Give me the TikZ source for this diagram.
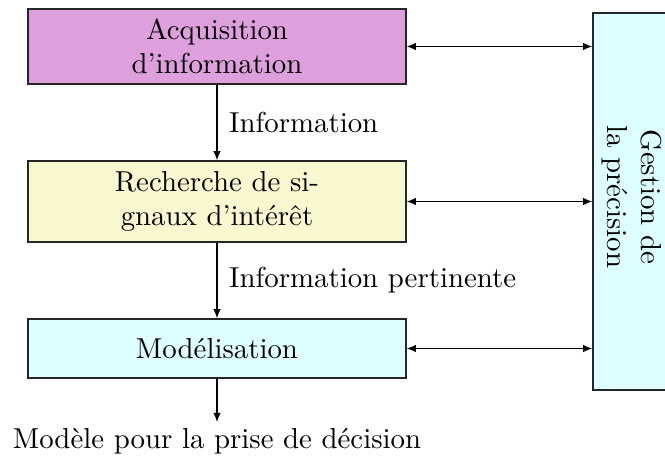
\documentclass[tikz,border=0pt]{standalone}
\usetikzlibrary{arrows.meta}
\definecolor{boxplum}{RGB}{221,160,221}
\definecolor{boxyellow}{RGB}{247,247,208}
\definecolor{boxcyan}{RGB}{222,255,255}
\tikzset{
  stage/.style={draw=black!85, line width=0.5pt, minimum width=378*0.3467pt,
    align=center, inner sep=0pt},
  flow/.style={-{Latex[length=3.2pt,width=2.6pt]}, line width=0.4pt},
  link/.style={{Latex[length=3.2pt,width=2.6pt]}-{Latex[length=3.2pt,width=2.6pt]}, line width=0.4pt},
  lbl/.style={inner sep=0pt}
}
\begin{document}
\begin{tikzpicture}[x=0.3467pt,y=-0.3467pt]
  \useasboundingbox (0,0) rectangle (665,460);
  % pipeline stages
  \node[stage, fill=boxplum, minimum height=75*0.3467pt] (acq) at (217,46.5)
    {Acquisition\\d'information};
  \node[stage, fill=boxyellow, minimum height=81*0.3467pt] (rech) at (217,201.5)
    {Recherche de si-\\gnaux d'intérêt};
  \node[stage, fill=boxcyan, minimum height=59*0.3467pt] (mod) at (217,348.5)
    {Modélisation};
  % precision management column
  \node[draw=black!85, line width=0.5pt, fill=boxcyan, minimum width=78*0.3467pt,
    minimum height=377*0.3467pt, inner sep=0pt] (gest) at (632,201.5) {};
  \node[rotate=-90, align=center, inner sep=0pt] (gesttxt) at (632,197)
    {Gestion de\\la précision};
  % output of the pipeline
  \node[lbl, anchor=base] (out) at (217,449) {Modèle pour la prise de décision};
  \coordinate (outtip) at (217,422);
  % vertical flow
  \draw[flow] (acq.south) -- node[right=4pt, lbl] {Information} (rech.north);
  \draw[flow] (rech.south) -- node[right=4pt, lbl] {Information pertinente} (mod.north);
  \draw[flow] (mod.south) -- (outtip);
  % links to the precision column
  \draw[link] (acq.east) -- (acq.east -| gest.west);
  \draw[link] (rech.east) -- (rech.east -| gest.west);
  \draw[link] (mod.east) -- (mod.east -| gest.west);
\end{tikzpicture}
\end{document}
